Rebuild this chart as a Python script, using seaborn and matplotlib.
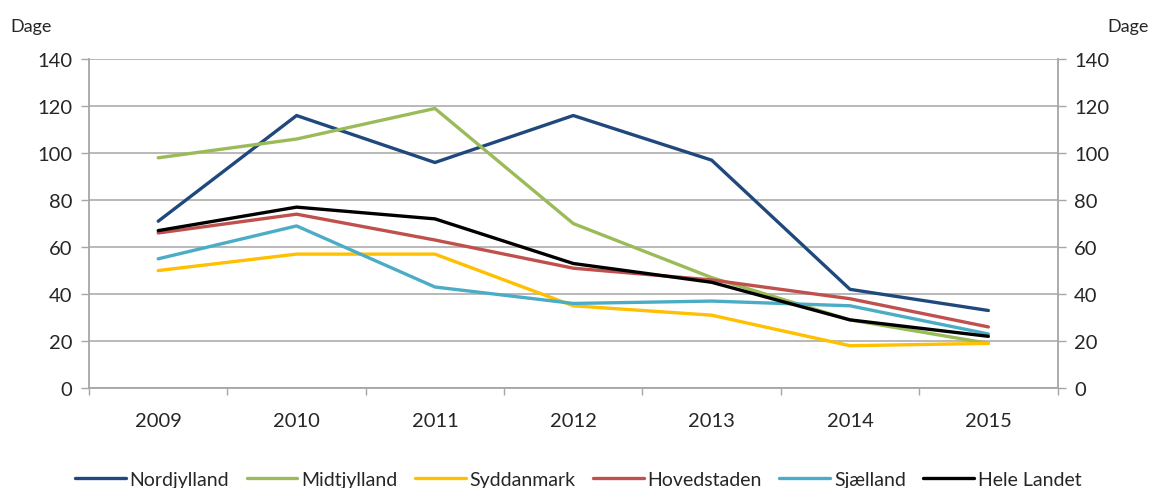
import numpy as np
import pandas as pd
import matplotlib
matplotlib.use("Agg")
import matplotlib.pyplot as plt
import seaborn as sns

# Data (dage)
years = ["2009", "2010", "2011", "2012", "2013", "2014", "2015"]
nordjylland = [71, 116, 96, 116, 97, 42, 33]
midtjylland = [98, 106, 119, 70, 47, 29, 19]
syddanmark = [50, 57, 57, 35, 31, 18, 19]
hovedstaden = [66, 74, 63, 51, 46, 38, 26]
sjaelland = [55, 69, 43, 36, 37, 35, 23]
hele_landet = [67, 77, 72, 53, 45, 29, 22]

series_names = ["Nordjylland", "Midtjylland", "Syddanmark", "Hovedstaden", "Sjælland", "Hele Landet"]
series_values = [nordjylland, midtjylland, syddanmark, hovedstaden, sjaelland, hele_landet]
colors = ["#1F497D", "#9BBB59", "#FFC000", "#C0504D", "#4BACC6", "#000000"]

rows = []
for name, vals in zip(series_names, series_values):
    for i, v in enumerate(vals):
        rows.append({"pos": i, "region": name, "dage": v})
df = pd.DataFrame(rows)

sns.set_theme(style="white")
plt.rcParams["font.family"] = ["Lato", "DejaVu Sans"]

fig, ax = plt.subplots(figsize=(11.52, 4.89), dpi=100)
fig.subplots_adjust(left=0.0773, right=0.918, top=0.877, bottom=0.2045)

sns.lineplot(data=df, x="pos", y="dage", hue="region", hue_order=series_names,
             palette=colors, linewidth=2.4, ax=ax, legend=True)

grid_col = "#A6A6A6"
ax.set_xlim(-0.5, len(years) - 0.5)
ax.set_ylim(0, 140)
ax.set_yticks(range(0, 141, 20))
ax.yaxis.grid(True, color=grid_col, linewidth=1.1)
ax.set_axisbelow(True)
ax.set_xticks(range(len(years)))
ax.set_xticklabels(years)
ax.tick_params(axis="x", length=0, pad=17, labelsize=14.5)
ax.tick_params(axis="y", left=True, length=6, color=grid_col, width=1, labelsize=14.5, pad=6)
# category boundary ticks on the x-axis
ax.set_xticks(np.arange(-0.5, len(years)), minor=True)
ax.tick_params(axis="x", which="minor", bottom=True, length=5, color=grid_col, width=1)
ax.set_xlabel("")
ax.set_ylabel("")
for side in ["left", "right", "bottom"]:
    ax.spines[side].set_color(grid_col)
    ax.spines[side].set_linewidth(1.3)
ax.spines["top"].set_visible(False)

ax2 = ax.twinx()
ax2.set_ylim(0, 140)
ax2.set_yticks(range(0, 141, 20))
ax2.tick_params(axis="y", right=True, length=6, color=grid_col, width=1, labelsize=14.5, pad=6)
ax2.grid(False)
for side in ["left", "right", "bottom", "top"]:
    ax2.spines[side].set_visible(False)

fig.text(0.009, 0.945, "Dage", fontsize=13, ha="left", va="center")
fig.text(0.961, 0.945, "Dage", fontsize=13, ha="left", va="center")

handles, labels = ax.get_legend_handles_labels()
ax.legend_.remove()
fig.legend(handles, labels, loc="lower center", ncol=6, frameon=False,
           bbox_to_anchor=(0.502, -0.035), fontsize=14, handlelength=2.6,
           handletextpad=0.2, columnspacing=0.9)

fig.savefig("out.png", dpi=100)
